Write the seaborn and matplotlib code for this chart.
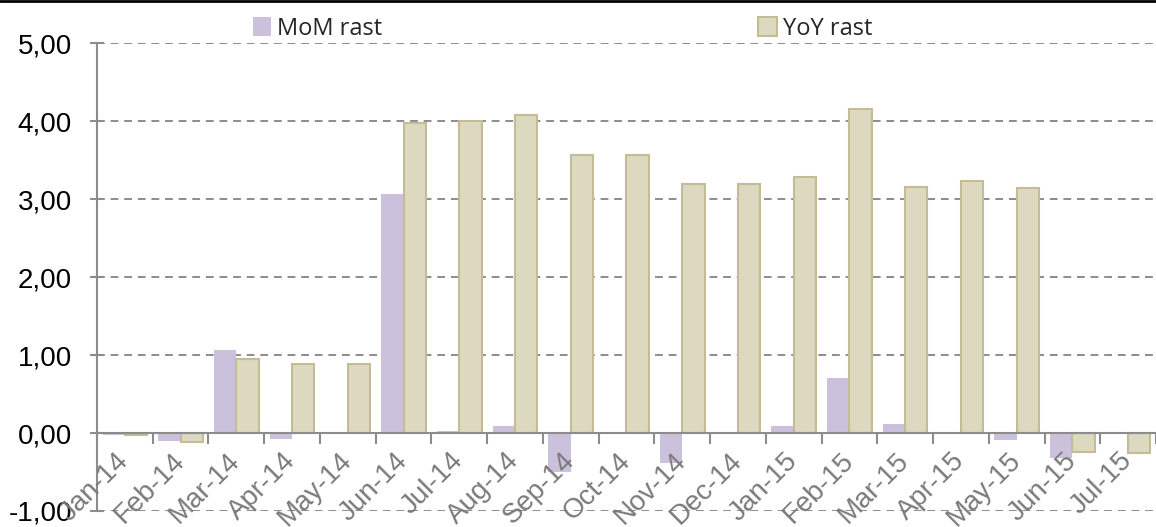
import matplotlib
matplotlib.use("Agg")
import matplotlib.pyplot as plt
import matplotlib.ticker as mticker
from matplotlib.lines import Line2D
import numpy as np
import pandas as pd
import seaborn as sns

months = ["Jan-14", "Feb-14", "Mar-14", "Apr-14", "May-14", "Jun-14", "Jul-14",
          "Aug-14", "Sep-14", "Oct-14", "Nov-14", "Dec-14", "Jan-15", "Feb-15",
          "Mar-15", "Apr-15", "May-15", "Jun-15", "Jul-15"]
mom = [-0.02, -0.10, 1.06, -0.08, -0.01, 3.07, 0.02, 0.09, -0.50, 0.00,
       -0.39, 0.00, 0.09, 0.70, 0.11, 0.00, -0.09, -0.32, -0.01]
yoy = [-0.02, -0.11, 0.95, 0.88, 0.88, 3.98, 4.00, 4.08, 3.57, 3.57,
       3.19, 3.19, 3.28, 4.15, 3.15, 3.23, 3.14, -0.24, -0.26]
series = ["MoM rast", "YoY rast"]
colors = ["#cbc1dc", "#ddd9c1"]

df = pd.DataFrame({
    "month": months * 2,
    "value": mom + yoy,
    "series": [series[0]] * len(months) + [series[1]] * len(months),
})

sns.set_style("white")
plt.rcParams["font.family"] = ["Liberation Sans", "DejaVu Sans"]

fig = plt.figure(figsize=(11.56, 5.27), dpi=100)
ax = fig.add_axes([0.0839, 0.0304, 0.9161, 0.8877])

sns.barplot(data=df, x="month", y="value", hue="series", palette=colors,
            order=months, hue_order=series, ax=ax, saturation=1,
            linewidth=0, width=0.8)

# YoY bars have a darker outline
for bar in ax.containers[1]:
    bar.set_edgecolor("#c4bc94")
    bar.set_linewidth(1.5)

ax.set_ylim(-1, 5)
ax.set_xlim(-0.5, len(months) - 0.5)
ax.set_xlabel("")
ax.set_ylabel("")

ax.yaxis.set_major_locator(mticker.MultipleLocator(1))
ax.yaxis.set_major_formatter(mticker.FuncFormatter(lambda v, p: f"{v:.2f}".replace(".", ",")))
ax.grid(axis="y", color="#8c8c8c", linestyle=(0, (4, 3)), linewidth=1.4)
ax.set_axisbelow(True)
# month labels sit on top of the bars, like the original
ax.xaxis.set_zorder(3)

for side in ["top", "right"]:
    ax.spines[side].set_visible(False)
ax.spines["left"].set_color("#8c8c8c")
ax.spines["left"].set_linewidth(1.5)
ax.spines["bottom"].set_position(("data", 0))
ax.spines["bottom"].set_color("#8c8c8c")
ax.spines["bottom"].set_linewidth(1.5)
ax.spines["bottom"].set_zorder(3)

ax.tick_params(axis="y", which="major", direction="inout", length=10, width=1.5,
               color="#8c8c8c", labelsize=20, labelcolor="black", pad=13, left=True)
ax.set_xticks(np.arange(len(months)))
ax.set_xticklabels(months, rotation=45, ha="right", va="center",
                   rotation_mode="anchor", fontsize=20, color="#7a7a7a")
ax.tick_params(axis="x", which="major", length=0, pad=17)
ax.set_xticks(np.arange(len(months) + 1) - 0.5, minor=True)
ax.tick_params(axis="x", which="minor", direction="out", length=8, width=1.5,
               color="#8c8c8c", bottom=True)

handles = [plt.Rectangle((0, 0), 1, 1, facecolor=colors[0], edgecolor="none"),
           plt.Rectangle((0, 0), 1, 1, facecolor=colors[1], edgecolor="#c4bc94", linewidth=1.5)]
ax.legend(handles, series, loc="lower left", bbox_to_anchor=(0.138, 0.985),
          ncol=2, frameon=False, handlelength=0.8, handleheight=0.8,
          handletextpad=0.25, columnspacing=15.9, borderaxespad=0,
          prop={"family": ["Open Sans", "DejaVu Sans"], "size": 17})

fig.add_artist(Line2D([0, 1], [0.998, 0.998], color="black", linewidth=2,
                      transform=fig.transFigure))

fig.savefig("out.png", dpi=100)
